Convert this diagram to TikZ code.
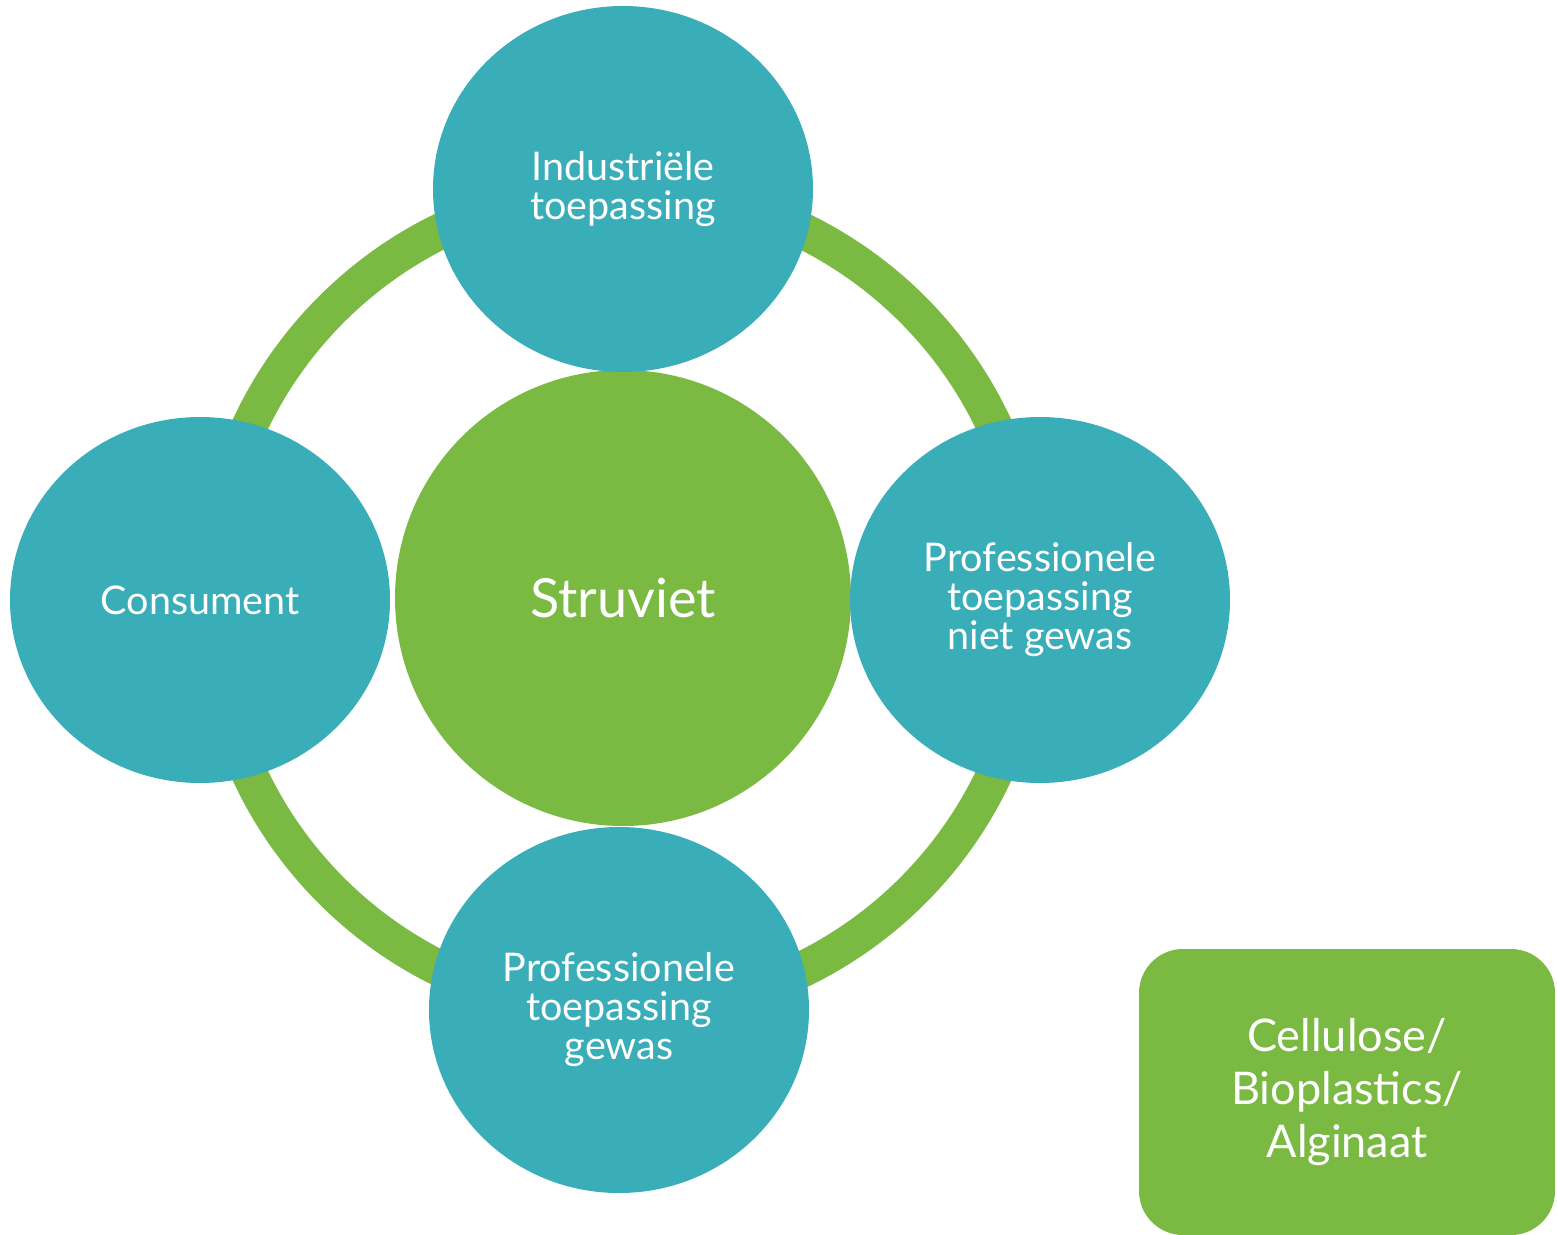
\documentclass[tikz,border=0pt]{standalone}
\usepackage{fontspec}
\setmainfont{Lato}
\usetikzlibrary{shapes.geometric}
\definecolor{leaf}{RGB}{122,185,66}
\definecolor{teal}{RGB}{57,173,184}
\tikzset{
  bluebubble/.style={ellipse, fill=teal, draw=none, minimum width=380pt, minimum height=366pt, inner sep=0pt,
    text=white, align=center, font=\fontsize{39.5}{39}\selectfont},
  core/.style={circle, fill=leaf, draw=none, minimum size=456pt, inner sep=0pt, text=white,
    font=\fontsize{54}{58}\selectfont},
  sidebox/.style={rectangle, rounded corners=44pt, fill=leaf, draw=none, minimum width=416pt, minimum height=286pt,
    inner sep=0pt, text=white, align=center, font=\fontsize{45}{53}\selectfont},
  ring/.style={draw=leaf, line width=36pt}
}
\begin{document}
\begin{tikzpicture}[x=1pt,y=-1pt]
\useasboundingbox (0,0) rectangle (1557,1234);
\coordinate (hub) at (622,600);
\draw[ring] (hub) circle[radius=411pt];
\node[core] (struviet) at (623,598) {Struviet};
\node[bluebubble] (ind) at (623,189) {Industriële\\toepassing};
\node[bluebubble] (cons) at (200,600) {Consument};
\node[bluebubble] (prof) at (1040,600) {Professionele\\toepassing\\niet gewas};
\node[bluebubble] (gew) at (619,1010) {Professionele\\toepassing\\gewas};
\node[sidebox] (cell) at (1347,1092) {Cellulose/\\Bioplastics/\\Alginaat};
\end{tikzpicture}
\end{document}
